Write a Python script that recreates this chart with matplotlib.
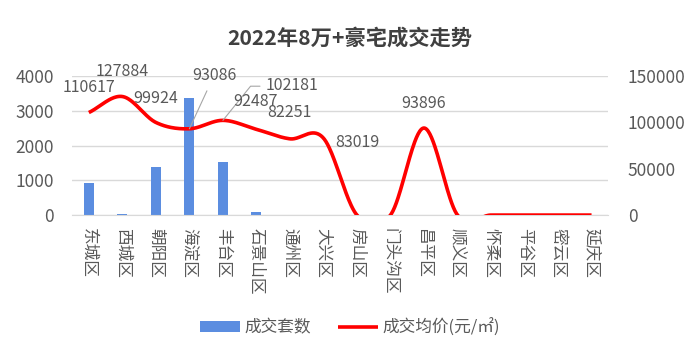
import numpy as np
import matplotlib
matplotlib.use("Agg")
import matplotlib.pyplot as plt

plt.rcParams['font.family'] = ['Noto Sans CJK SC', 'DejaVu Sans']

districts = ['东城区', '西城区', '朝阳区', '海淀区', '丰台区', '石景山区', '通州区', '大兴区',
             '房山区', '门头沟区', '昌平区', '顺义区', '怀柔区', '平谷区', '密云区', '延庆区']
deals = [930, 30, 1375, 3360, 1535, 85, 0, 0, 0, 0, 0, 0, 0, 0, 0, 0]
avg_price = [110617, 127884, 99924, 93086, 102181, 92487, 82251, 83019,
             0, 0, 93896, 0, 0, 0, 0, 0]
# label offsets in pixels (dx, dy) relative to each point, only for labelled points
label_offsets = {0: (0, 25), 1: (0, 25), 2: (0, 24), 3: (25, 53), 4: (69, 35),
                 5: (-1, 28), 6: (0, 26), 7: (34, -4), 10: (0, 25)}

grey = '#595959'


def catmull_rom(y, n=40):
    """Smooth curve through points, like Excel's smoothed line."""
    y = np.asarray(y, dtype=float)
    m = np.zeros_like(y)
    m[1:-1] = (y[2:] - y[:-2]) / 2
    m[0] = y[1] - y[0]
    m[-1] = y[-1] - y[-2]
    xs, ys = [], []
    t = np.linspace(0, 1, n, endpoint=False)
    h00 = 2 * t**3 - 3 * t**2 + 1
    h10 = t**3 - 2 * t**2 + t
    h01 = -2 * t**3 + 3 * t**2
    h11 = t**3 - t**2
    for i in range(len(y) - 1):
        xs.append(i + t)
        ys.append(h00 * y[i] + h10 * m[i] + h01 * y[i + 1] + h11 * m[i + 1])
    xs.append([len(y) - 1])
    ys.append([y[-1]])
    return np.concatenate(xs), np.concatenate(ys)


fig = plt.figure(figsize=(7, 3.52), dpi=100)
ax = fig.add_axes([0.103, 0.389, 0.766, 0.395])
x = np.arange(len(districts))

bars = ax.bar(x, deals, width=0.3, color='#5B8DE0', label='成交套数', zorder=2)
ax.set_ylim(0, 4000)
ax.set_yticks([0, 1000, 2000, 3000, 4000])
ax.set_xlim(-0.5, len(districts) - 0.5)
ax.grid(axis='y', color='#D9D9D9', linewidth=1, zorder=0)
ax.set_axisbelow(True)
for s in ['top', 'right', 'left']:
    ax.spines[s].set_visible(False)
ax.spines['bottom'].set_color('#D9D9D9')
ax.tick_params(axis='both', length=0, labelsize=12.5, colors=grey)
ax.tick_params(axis='y', pad=13)
ax.tick_params(axis='x', pad=9)
ax.set_xticks(x)
ax.set_xticklabels(districts, rotation=270, fontsize=12, va='top', ha='center')

ax2 = ax.twinx()
sx, sy = catmull_rom(avg_price)
line, = ax2.plot(sx, sy, color='#FF0000', linewidth=2.6, label='成交均价(元/㎡)',
                 solid_capstyle='butt', zorder=3)
ax2.set_ylim(0, 150000)
ax2.set_yticks([0, 50000, 100000, 150000])
for s in ['top', 'right', 'left', 'bottom']:
    ax2.spines[s].set_visible(False)
ax2.tick_params(axis='y', length=0, labelsize=12.5, colors=grey, pad=14)

for i, (dx, dy) in label_offsets.items():
    v = avg_price[i]
    kw = {}
    if i == 3:
        kw['arrowprops'] = dict(arrowstyle='-', color='#A6A6A6', lw=0.8,
                                relpos=(0.4, 0), shrinkA=3, shrinkB=0)
    elif i == 4:
        kw['arrowprops'] = dict(arrowstyle='-', color='#A6A6A6', lw=0.8,
                                relpos=(0, 0.45), shrinkA=2, shrinkB=0,
                                connectionstyle='angle,angleA=0,angleB=51,rad=0')
    ax2.annotate(f'{v}', xy=(i, v), xytext=(dx, dy), textcoords='offset pixels',
                 ha='center', va='center', fontsize=11.5, color=grey, **kw)

fig.text(0.5, 0.893, '2022年8万+豪宅成交走势', ha='center', va='center',
         fontsize=15.3, fontweight='bold', color='#404040')

fig.legend([bars, line], ['成交套数', '成交均价(元/㎡)'], loc='center',
           bbox_to_anchor=(0.5, 0.07), ncol=2, frameon=False, fontsize=12,
           labelcolor=grey, handlelength=2.4, handleheight=0.6, columnspacing=1.6,
           handletextpad=0.3)

fig.savefig('out.png', dpi=100)
